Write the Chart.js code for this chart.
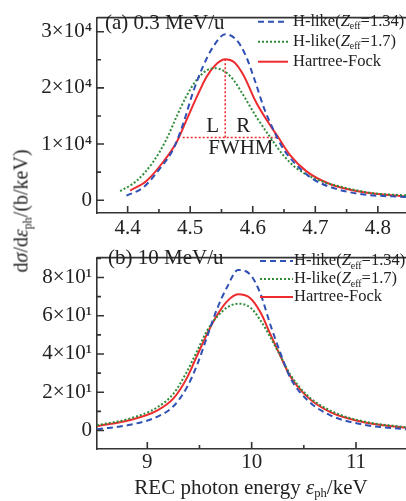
<!DOCTYPE html>
<html>
<head>
<meta charset="utf-8">
<script src="https://cdn.jsdelivr.net/npm/chart.js@4.4.1/dist/chart.umd.min.js"></script>
<style>
  html, body { margin: 0; padding: 0; background: #fff; overflow: hidden; }
  #pagina { position: relative; width: 406px; height: 501px; font-family: "Liberation Serif", "Times New Roman", serif; color: #222; }
  .painel { position: absolute; left: 0; }
  #graficoA { top: 0; }
  #graficoB { top: 240px; }
  #tituloY { position: absolute; left: 21px; top: 211px; transform: translate(-50%, -50%) rotate(-90deg); white-space: nowrap; font-size: 20px; }
  #tituloX { position: absolute; left: 251px; top: 487px; transform: translate(-50%, -50%); white-space: nowrap; font-size: 21px; }
  sub { font-size: 0.6em; vertical-align: -0.3em; line-height: 0; }
</style>
</head>
<body>
<div id="pagina">
  <canvas id="graficoA" class="painel" width="406" height="240"></canvas>
  <canvas id="graficoB" class="painel" width="406" height="261"></canvas>
  <div id="tituloY">d<i>σ</i>/d<i>ε</i><sub>ph</sub>/(b/keV)</div>
  <div id="tituloX">REC photon energy <i>ε</i><sub>ph</sub>/keV</div>
</div>
<script>
// ---- (a) 0.3 MeV/u ----
const energiaA_134 = [4.398, 4.425, 4.452, 4.473, 4.489, 4.505, 4.521, 4.537, 4.556, 4.574, 4.589, 4.604, 4.618, 4.633, 4.649, 4.670, 4.697, 4.734, 4.777, 4.845];
const secaoA_134   = [800, 2280, 5700, 9120, 13690, 19390, 23960, 27380, 29550, 28530, 25700, 21100, 16400, 12550, 9120, 6270, 3710, 2000, 1030, 570];

const energiaA_17 = [4.388, 4.414, 4.441, 4.462, 4.478, 4.494, 4.510, 4.526, 4.540, 4.558, 4.570, 4.585, 4.606, 4.628, 4.649, 4.670, 4.702, 4.745, 4.793, 4.845];
const secaoA_17   = [1600, 3420, 6850, 10840, 14830, 18540, 21390, 23100, 23500, 22700, 21300, 18700, 14800, 11200, 7990, 5700, 3710, 2280, 1250, 860];

const energiaA_hf = [4.404, 4.430, 4.457, 4.478, 4.494, 4.510, 4.526, 4.542, 4.556, 4.570, 4.585, 4.606, 4.628, 4.641, 4.660, 4.686, 4.724, 4.777, 4.845];
const secaoA_hf   = [1710, 3420, 6850, 10270, 14260, 18260, 21960, 24250, 25100, 24600, 22300, 17300, 13300, 11160, 7990, 5130, 2850, 1430, 680];

// FWHM: linha vertical no pico e linha horizontal na meia altura
const fwhmVertX = [4.556, 4.556];
const fwhmVertY = [25100, 11160];
const fwhmHorX  = [4.488, 4.642];
const fwhmHorY  = [11160, 11160];

// ---- (b) 10 MeV/u ----
const energiaB = [8.518, 8.837, 9.093, 9.253, 9.380, 9.476, 9.572, 9.668, 9.764, 9.870, 9.987, 10.083, 10.179, 10.275, 10.370, 10.530, 10.754, 11.074, 11.479];
const secaoB_134 = [0.6, 3.0, 7.1, 12.8, 22.6, 34.1, 48.8, 63.5, 74.9, 83.9, 81.5, 71.7, 55.3, 40.6, 27.5, 16.1, 7.9, 3.0, 0.6];
const secaoB_17  = [2.7, 6.3, 12.0, 19.4, 30.8, 41.4, 52.1, 59.4, 64.3, 66.3, 64.3, 57.7, 48.8, 39.0, 29.2, 18.5, 10.4, 4.7, 1.7];
const secaoB_hf  = [2.2, 5.5, 10.4, 16.9, 27.5, 39.0, 50.4, 60.2, 67.5, 71.2, 69.2, 61.9, 50.4, 39.0, 28.3, 17.7, 9.6, 4.3, 1.4];

// marcas com rotulo
const ticksXA = [4.4, 4.5, 4.6, 4.7, 4.8];
const ticksYA = [0, 10000, 20000, 30000];
const ticksXB = [9, 10, 11];
const ticksYB = [0, 20, 40, 60, 80];

const serif = '"Liberation Serif", "Times New Roman", serif';
const AZUL = '#2f50b4';
const VERDE = '#2f8c38';
const VERMELHO = '#ee2b2e';

Chart.defaults.font.family = serif;
Chart.defaults.color = '#222';

function pontos(xs, ys) {
  return xs.map((x, i) => ({ x: x, y: ys[i] }));
}

// escreve texto com partes em italico / subscrito
function escreve(ctx, partes, x, y, tam) {
  for (const p of partes) {
    const t = p.sub ? tam * 0.6 : tam;
    ctx.font = (p.i ? 'italic ' : '') + t + 'px ' + serif;
    ctx.fillText(p.t, x, y + (p.sub ? tam * 0.3 : 0));
    x += ctx.measureText(p.t).width;
  }
}

const rotulo134 = [{ t: 'H-like(' }, { t: 'Z', i: true }, { t: 'eff', sub: true }, { t: '=1.34)' }];
const rotulo17  = [{ t: 'H-like(' }, { t: 'Z', i: true }, { t: 'eff', sub: true }, { t: '=1.7)' }];
const rotuloHF  = [{ t: 'Hartree-Fock' }];

// moldura, marcas para dentro, legenda e textos
const moldura = {
  id: 'moldura',
  afterDraw(chart, args, o) {
    const ctx = chart.ctx, a = chart.chartArea;
    const sx = chart.scales.x, sy = chart.scales.y;
    ctx.save();
    ctx.strokeStyle = '#333';
    ctx.lineWidth = 1.6;
    ctx.beginPath();
    ctx.moveTo(a.left, a.top);
    ctx.lineTo(a.right, a.top);
    for (let k = Math.ceil(sx.min / o.menorX - 1e-6); k * o.menorX <= sx.max + 1e-9; k++) {
      const px = sx.getPixelForValue(k * o.menorX);
      const len = k % 2 === 0 ? 7 : 4;
      ctx.moveTo(px, a.bottom);
      ctx.lineTo(px, a.bottom - len);
    }
    for (let k = Math.ceil(sy.min / o.menorY - 1e-6); k * o.menorY <= sy.max + 1e-9; k++) {
      const py = sy.getPixelForValue(k * o.menorY);
      const len = k % 2 === 0 ? 7 : 4;
      ctx.moveTo(a.left, py);
      ctx.lineTo(a.left + len, py);
    }
    ctx.stroke();

    ctx.fillStyle = '#222';
    ctx.textBaseline = 'middle';
    ctx.textAlign = 'left';
    ctx.font = '21px ' + serif;
    ctx.fillText(o.painel, o.painelX, o.painelY);

    // anotacoes em coordenadas de dados
    ctx.textAlign = 'center';
    (o.anotacoes || []).forEach(n => {
      ctx.font = '21px ' + serif;
      ctx.fillText(n.texto, sx.getPixelForValue(n.x), sy.getPixelForValue(n.y));
    });

    // legenda
    ctx.textAlign = 'left';
    const L = o.legenda;
    chart.data.datasets.filter(d => d.rotulo).forEach((d, i) => {
      const yy = L.y0 + i * L.dy;
      ctx.strokeStyle = d.borderColor;
      ctx.lineWidth = d.borderWidth;
      ctx.setLineDash(d.borderDash || []);
      ctx.beginPath();
      ctx.moveTo(L.x0, yy);
      ctx.lineTo(L.x1, yy);
      ctx.stroke();
      ctx.setLineDash([]);
      escreve(ctx, d.rotulo, L.xt, yy, 16.5);
    });
    ctx.restore();
  }
};

function serie(dados, cor, traco, rotulo) {
  return {
    data: dados,
    borderColor: cor,
    backgroundColor: cor,
    borderWidth: 2,
    borderDash: traco,
    pointRadius: 0,
    cubicInterpolationMode: 'monotone',
    fill: false,
    rotulo: rotulo
  };
}

function grafico(config) {
  const { id, series, xMin, xMax, marcasX, yMin, yMax, marcasY, rotuloX, rotuloY, topo, alturaX, padX, extra } = config;
  return new Chart(document.getElementById(id), {
    type: 'line',
    data: { datasets: series },
    options: {
      responsive: false,
      animation: false,
      layout: { padding: { top: topo, left: 0, right: 0, bottom: 0 } },
      plugins: {
        legend: { display: false },
        tooltip: { enabled: false },
        moldura: extra
      },
      scales: {
        x: {
          type: 'linear',
          min: xMin,
          max: xMax,
          grid: { display: false, drawTicks: false },
          border: { display: true, color: '#333', width: 1.6 },
          afterBuildTicks: s => { s.ticks = marcasX.map(v => ({ value: v })); },
          ticks: {
            autoSkip: false,
            maxRotation: 0,
            padding: padX,
            color: '#222',
            font: { size: 21 },
            callback: rotuloX
          },
          afterFit: s => { s.height = alturaX; }
        },
        y: {
          min: yMin,
          max: yMax,
          grid: { display: false, drawTicks: false },
          border: { display: true, color: '#333', width: 1.6 },
          afterBuildTicks: s => { s.ticks = marcasY.map(v => ({ value: v })); },
          ticks: {
            autoSkip: false,
            padding: 5,
            color: '#222',
            font: { size: 21 },
            callback: rotuloY
          },
          afterFit: s => { s.width = 97; }
        }
      }
    },
    plugins: [moldura]
  });
}

grafico({
  id: 'graficoA',
  series: [
    serie(pontos(energiaA_134, secaoA_134), AZUL, [6, 4], rotulo134),
    serie(pontos(energiaA_17, secaoA_17), VERDE, [2, 2], rotulo17),
    serie(pontos(energiaA_hf, secaoA_hf), VERMELHO, [], rotuloHF),
    Object.assign(serie(pontos(fwhmVertX, fwhmVertY), VERMELHO, [2, 2], null), { borderWidth: 1.6 }),
    Object.assign(serie(pontos(fwhmHorX, fwhmHorY), VERMELHO, [2, 2], null), { borderWidth: 1.6 })
  ],
  xMin: 4.351, xMax: 4.845, marcasX: ticksXA,
  yMin: -2280, yMax: 32520, marcasY: ticksYA,
  rotuloX: v => v.toFixed(1),
  rotuloY: v => v === 0 ? '0' : Math.round(v / 10000) + '×10⁴',
  topo: 10, alturaX: 27, padX: 3,
  extra: {
    menorX: 0.05, menorY: 5000,
    painel: '(a) 0.3 MeV/u', painelX: 105, painelY: 23,
    anotacoes: [
      { texto: 'L', x: 4.536, y: 13160 },
      { texto: 'R', x: 4.585, y: 13160 },
      { texto: 'FWHM', x: 4.581, y: 9230 }
    ],
    legenda: { x0: 258, x1: 288, xt: 293, y0: 21.7, dy: 20 }
  }
});

grafico({
  id: 'graficoB',
  series: [
    serie(pontos(energiaB, secaoB_134), AZUL, [6, 4], rotulo134),
    serie(pontos(energiaB, secaoB_17), VERDE, [2, 2], rotulo17),
    serie(pontos(energiaB, secaoB_hf), VERMELHO, [], rotuloHF)
  ],
  xMin: 8.518, xMax: 11.479, marcasX: ticksXB,
  yMin: -9.7, yMax: 90.4, marcasY: ticksYB,
  rotuloX: v => String(v),
  rotuloY: v => v === 0 ? '0' : Math.round(v / 10) + '×10¹',
  topo: 5, alturaX: 52, padX: 1,
  extra: {
    menorX: 0.5, menorY: 10,
    painel: '(b) 10 MeV/u', painelX: 108, painelY: 18.5,
    anotacoes: [],
    legenda: { x0: 260, x1: 293, xt: 294, y0: 21, dy: 18 }
  }
});
</script>
</body>
</html>
